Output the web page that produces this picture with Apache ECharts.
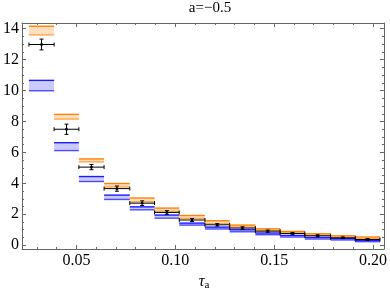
<!DOCTYPE html>
<html><head><meta charset="utf-8">
<script src="https://cdn.jsdelivr.net/npm/echarts@6/dist/echarts.min.js"></script>
<style>html,body{margin:0;padding:0;background:#fff}#c{width:390px;height:293px}</style>
</head><body><div id="c"></div>
<script>
// bin edges (tau_a)
const binEdges = [0.026, 0.03875, 0.05125, 0.064, 0.077, 0.0895, 0.102, 0.115, 0.1275, 0.1405, 0.153, 0.1655, 0.1785, 0.191, 0.2035];
// orange band (upper / lower)
const orangeHi = [14.16, 8.46, 5.58, 3.99, 3.05, 2.40, 1.92, 1.58, 1.30, 1.06, 0.89, 0.74, 0.61, 0.53];
const orangeLo = [13.60, 8.16, 5.39, 3.77, 2.81, 2.20, 1.73, 1.39, 1.17, 0.95, 0.79, 0.63, 0.53, 0.42];
// blue band (upper / lower)
const blueHi = [10.66, 6.63, 4.44, 3.24, 2.48, 1.95, 1.43, 1.17, 1.00, 0.79, 0.63, 0.50, 0.42, 0.31];
const blueLo = [9.99, 6.12, 4.12, 2.96, 2.29, 1.75, 1.30, 1.05, 0.87, 0.68, 0.53, 0.40, 0.34, 0.23];
// data points with errors
const dataVal = [12.98, 7.50, 5.05, 3.66, 2.72, 2.12, 1.63, 1.32, 1.11, 0.91, 0.76, 0.61, 0.48, 0.37];
const dataErr = [0.35, 0.33, 0.17, 0.17, 0.15, 0.12, 0.10, 0.08, 0.08, 0.07, 0.06, 0.06, 0.05, 0.05];
// ticks
const xMajor = [0.05, 0.10, 0.15, 0.20];
const xMinor = [0.03, 0.04, 0.06, 0.07, 0.08, 0.09, 0.11, 0.12, 0.13, 0.14, 0.16, 0.17, 0.18, 0.19];
const yMajor = [0, 2, 4, 6, 8, 10, 12, 14];
const yMinor = [0.5,1,1.5,2.5,3,3.5,4.5,5,5.5,6.5,7,7.5,8.5,9,9.5,10.5,11,11.5,12.5,13,13.5];

const X_MIN = 0.0225, X_MAX = 0.2055, Y_MIN = -0.245, Y_MAX = 14.37;
const FONT = 'Liberation Serif';
const AX = '#666';

function bandData(hi, lo) {
  return hi.map((h, i) => [binEdges[i], binEdges[i + 1], h, lo[i]]);
}
function bandRender(fill, strokeTop, strokeBot) {
  return function (params, api) {
    const p0 = api.coord([api.value(0), api.value(2)]);
    const p1 = api.coord([api.value(1), api.value(3)]);
    return {type: 'group', children: [
      {type: 'rect', shape: {x: p0[0], y: p0[1], width: p1[0] - p0[0], height: p1[1] - p0[1]}, style: {fill: fill}},
      {type: 'line', shape: {x1: p0[0], y1: p0[1], x2: p1[0], y2: p0[1]}, style: {stroke: strokeTop, lineWidth: 1.4}},
      {type: 'line', shape: {x1: p0[0], y1: p1[1], x2: p1[0], y2: p1[1]}, style: {stroke: strokeBot, lineWidth: 1.4}}
    ]};
  };
}
const pointData = dataVal.map((v, i) => [binEdges[i], binEdges[i + 1], v, dataErr[i]]);
function pointRender(params, api) {
  const x0 = api.value(0), x1 = api.value(1), v = api.value(2), e = api.value(3);
  const xm = (x0 + x1) / 2;
  const a = api.coord([x0, v]), b = api.coord([x1, v]);
  const t = api.coord([xm, v + e]), m = api.coord([xm, v - e]);
  const c = api.coord([xm, v]);
  const st = {stroke: '#000', lineWidth: 1};
  return {type: 'group', children: [
    {type: 'line', shape: {x1: a[0], y1: a[1], x2: b[0], y2: b[1]}, style: st},
    {type: 'line', shape: {x1: a[0], y1: a[1] - 2, x2: a[0], y2: a[1] + 2}, style: st},
    {type: 'line', shape: {x1: b[0], y1: b[1] - 2, x2: b[0], y2: b[1] + 2}, style: st},
    {type: 'line', shape: {x1: t[0], y1: t[1], x2: m[0], y2: m[1]}, style: st},
    {type: 'line', shape: {x1: t[0] - 2, y1: t[1], x2: t[0] + 2, y2: t[1]}, style: st},
    {type: 'line', shape: {x1: m[0] - 2, y1: m[1], x2: m[0] + 2, y2: m[1]}, style: st},
    {type: 'rect', shape: {x: c[0] - 1.2, y: c[1] - 1.2, width: 2.4, height: 2.4}, style: {fill: '#000'}}
  ]};
}

function xAx(pos, vals, len, line, labels) {
  return {type: 'value', min: X_MIN, max: X_MAX, position: pos,
    axisLine: {show: line, onZero: false, lineStyle: {color: AX, width: 1}},
    splitLine: {show: false},
    axisTick: {show: true, inside: true, length: len, customValues: vals, lineStyle: {color: AX}},
    axisLabel: labels ? {show: true, customValues: vals, formatter: v => v.toFixed(2), fontFamily: FONT, fontSize: 16, color: '#000', margin: 4} : {show: false}
  };
}
function yAx(pos, vals, len, line, labels) {
  return {type: 'value', min: Y_MIN, max: Y_MAX, position: pos,
    axisLine: {show: line, onZero: false, lineStyle: {color: AX, width: 1}},
    splitLine: {show: false},
    axisTick: {show: true, inside: true, length: len, customValues: vals, lineStyle: {color: AX}},
    axisLabel: labels ? {show: true, customValues: vals, formatter: v => String(v), fontFamily: FONT, fontSize: 16, color: '#000', margin: 3} : {show: false}
  };
}

const chart = echarts.init(document.getElementById('c'), null, {renderer: 'canvas'});
chart.setOption({
  animation: false,
  backgroundColor: '#fff',
  grid: {left: 20, right: 4, top: 23, bottom: 44, containLabel: false},
  xAxis: [xAx('bottom', xMajor, 4, true, true), xAx('bottom', xMinor, 2, false, false),
          xAx('top', xMajor, 4, true, false), xAx('top', xMinor, 2, false, false)],
  yAxis: [yAx('left', yMajor, 4, true, true), yAx('left', yMinor, 2, false, false),
          yAx('right', yMajor, 4, true, false), yAx('right', yMinor, 2, false, false)],
  graphic: [
    {type: 'text', x: 210, y: 1, style: {text: 'a=\u22120.5', font: '15px "Liberation Serif"', fill: '#000', textAlign: 'center'}},
    {type: 'text', x: 204, y: 272, style: {text: '{t|\u03c4}{s|a}', textAlign: 'center',
      rich: {t: {font: 'italic 16px "Liberation Serif"', fill: '#000'}, s: {font: '11px "Liberation Serif"', fill: '#000', padding: [8, 0, 0, 0]}}}}
  ],
  series: [
    {type: 'custom', xAxisIndex: 0, yAxisIndex: 0, data: bandData(blueHi, blueLo), encode: {x: [0, 1], y: [2, 3]},
     renderItem: bandRender('rgba(90,90,255,0.32)', '#1a1aff', '#4d4dff'), clip: true, silent: true},
    {type: 'custom', xAxisIndex: 0, yAxisIndex: 0, data: bandData(orangeHi, orangeLo), encode: {x: [0, 1], y: [2, 3]},
     renderItem: bandRender('rgba(255,150,50,0.30)', '#ff8000', '#ffa64d'), clip: true, silent: true},
    {type: 'custom', xAxisIndex: 0, yAxisIndex: 0, data: pointData, encode: {x: [0, 1], y: 2},
     renderItem: pointRender, clip: true, silent: true}
  ]
});
</script></body></html>
